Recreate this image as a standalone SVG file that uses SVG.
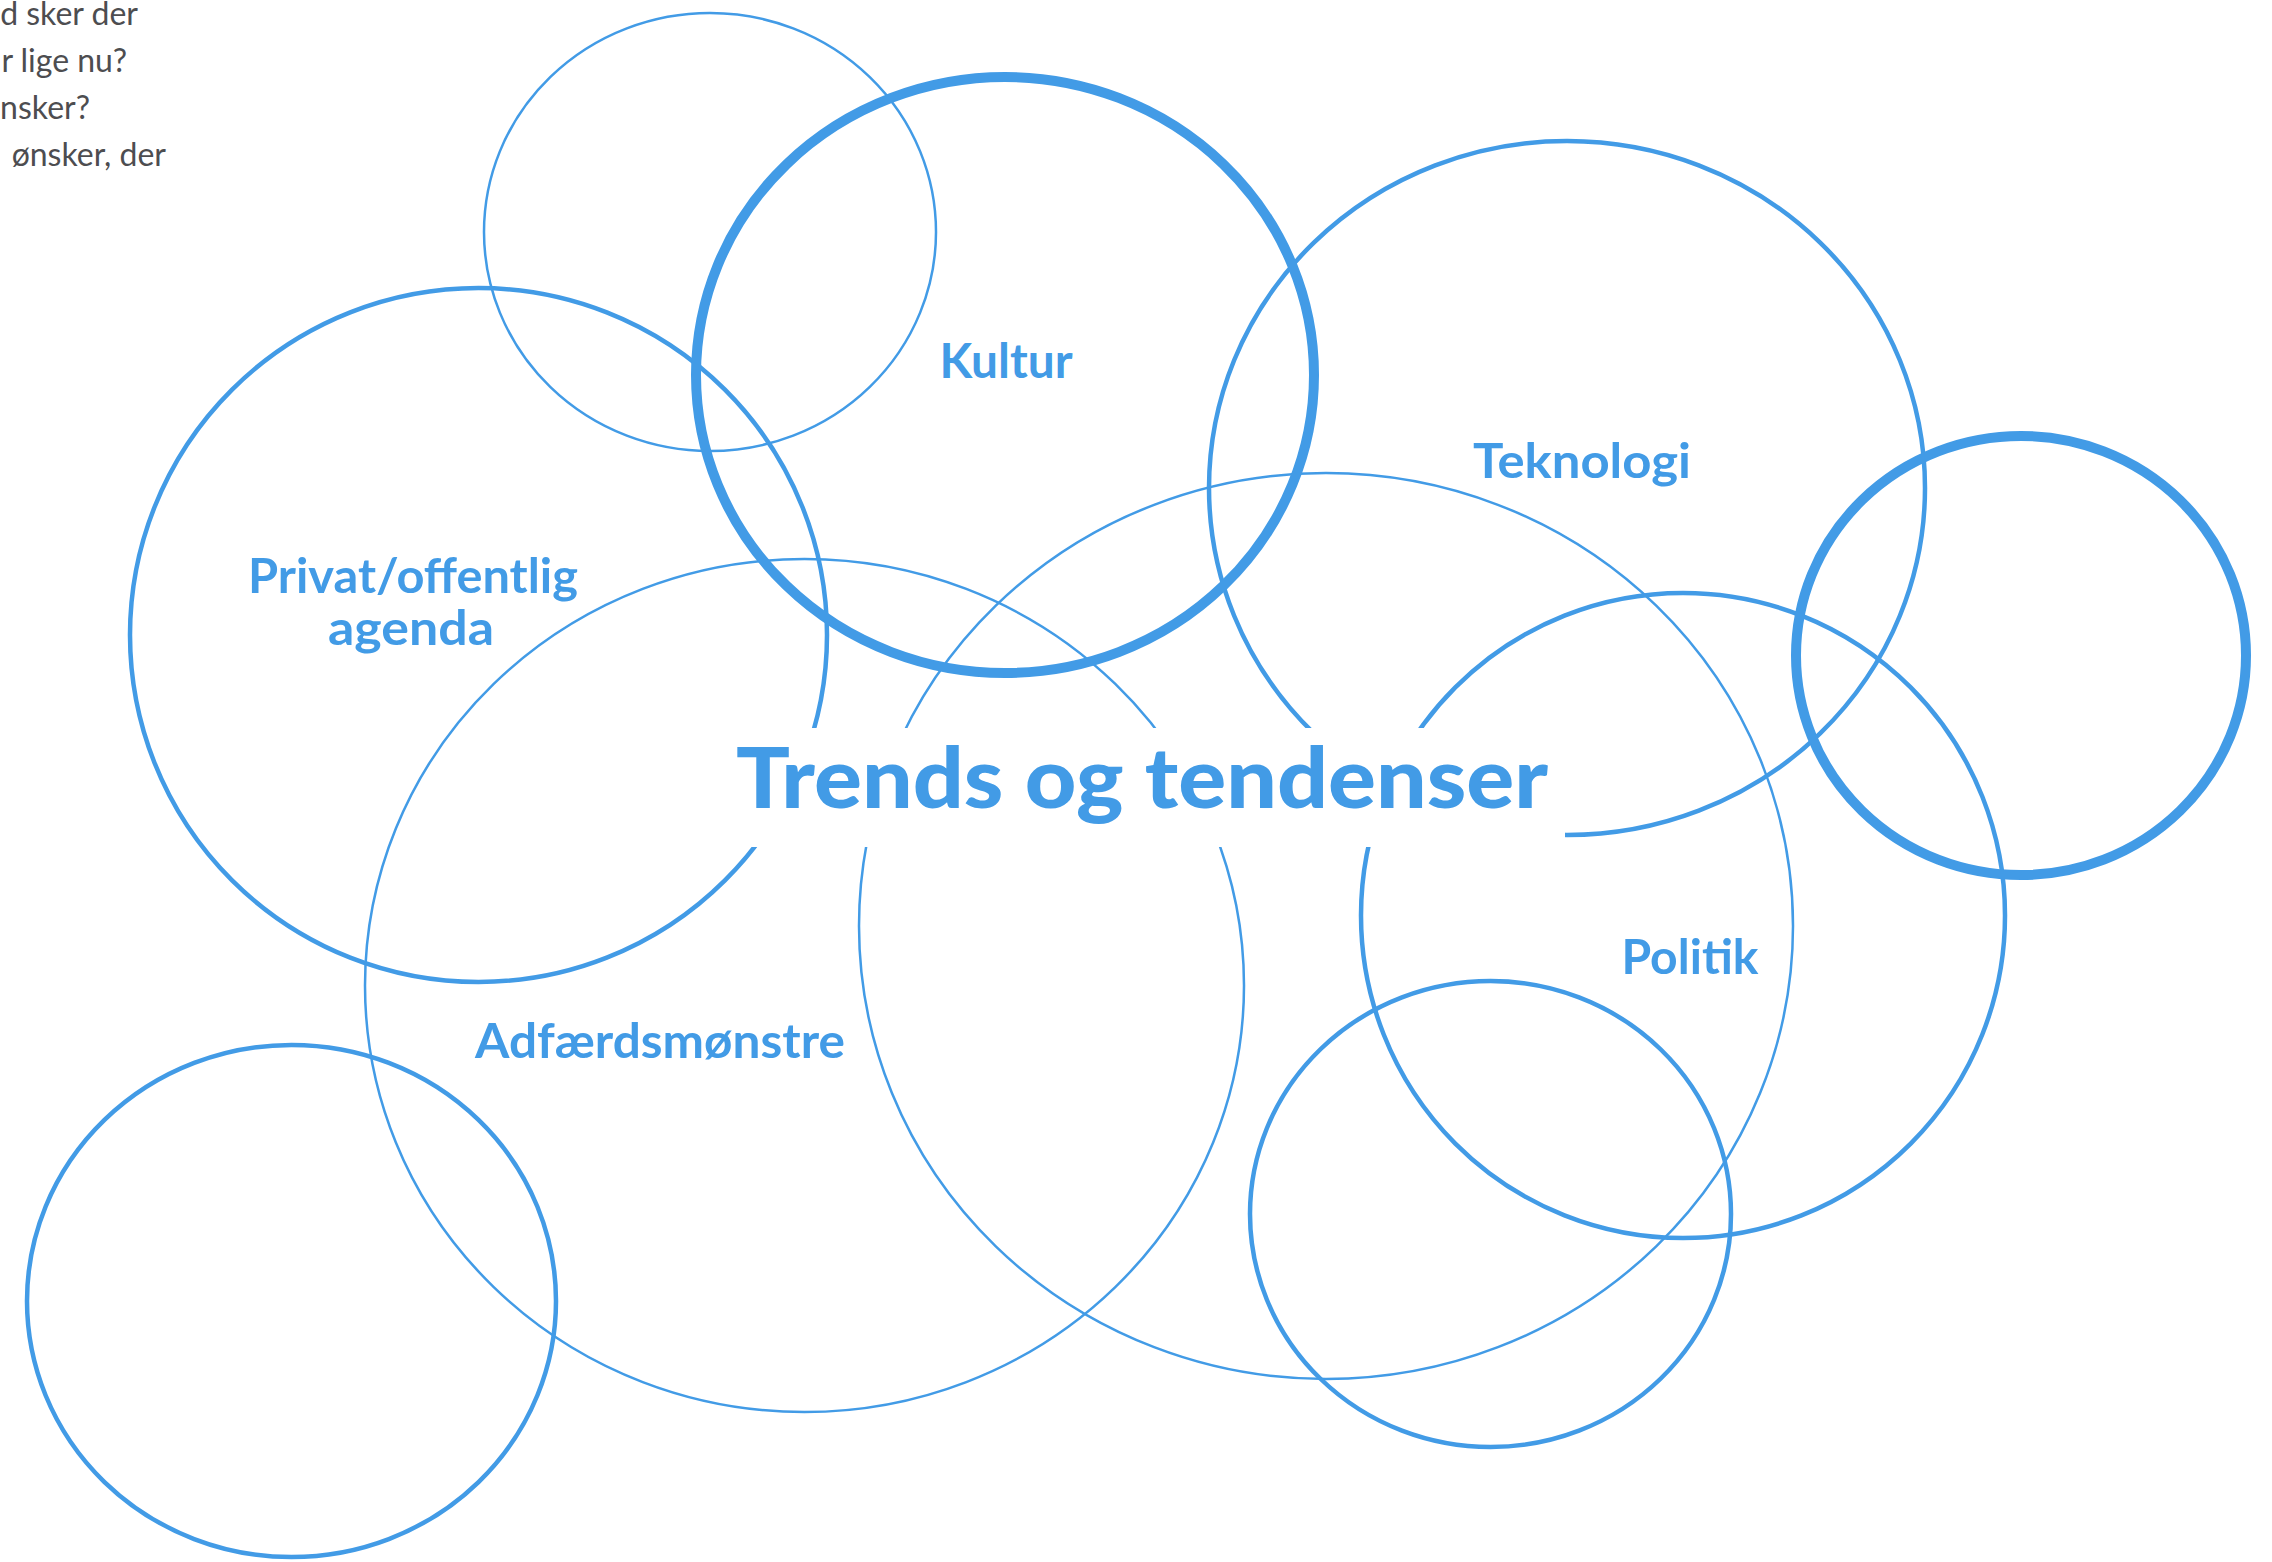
<svg xmlns="http://www.w3.org/2000/svg" width="2272" height="1562" viewBox="0 0 2272 1562">
<style>
.c{fill:none;stroke:#429be6}
.thin{stroke-width:2.5}
.med{stroke-width:4.5}
.thick{stroke-width:10}
.lbl{font-family:Lato,"Open Sans",sans-serif;font-weight:700;font-size:48px;fill:#429be6;text-anchor:middle}
.title{font-family:Lato,"Open Sans",sans-serif;font-weight:900;font-size:84px;fill:#429be6;text-anchor:middle}
.note{font-family:Lato,"Open Sans",sans-serif;font-weight:400;font-size:32px;fill:#4d4d50;text-anchor:end}
</style>
<defs>
<mask id="cut" maskUnits="userSpaceOnUse" x="0" y="0" width="2272" height="1562">
<rect x="0" y="0" width="2272" height="1562" fill="#fff"/>
<rect x="715" y="728" width="850" height="119" fill="#000"/>
</mask>
</defs>
<rect width="2272" height="1562" fill="#fff"/>
<g id="notes">
<text class="note" x="138" y="25">d sker der</text>
<text class="note" x="127" y="72">r lige nu?</text>
<text class="note" x="90" y="119">nsker?</text>
<text class="note" x="166" y="166">ønsker, der</text>
</g>
<g mask="url(#cut)">
<g id="circle-top"><ellipse class="c thin" cx="710" cy="232" rx="226" ry="219"/></g>
<g id="node-privat"><ellipse class="c med" cx="478.5" cy="635" rx="348.5" ry="347"/></g>
<g id="node-adfaerd"><ellipse class="c thin" cx="804.5" cy="985.5" rx="439.5" ry="426.5"/></g>
<g id="node-center"><ellipse class="c thin" cx="1326" cy="926" rx="467" ry="453"/></g>
<g id="node-teknologi"><ellipse class="c med" cx="1567" cy="488" rx="358" ry="347"/></g>
<g id="node-politik"><ellipse class="c med" cx="1683" cy="915.5" rx="322" ry="322.5"/></g>
<g id="circle-right"><ellipse class="c thick" cx="2021" cy="655.5" rx="225" ry="219.5"/></g>
<g id="circle-bottomleft"><ellipse class="c med" cx="291.5" cy="1301" rx="264.5" ry="256"/></g>
<g id="circle-bottom"><ellipse class="c med" cx="1490.5" cy="1214" rx="240.5" ry="233"/></g>
<g id="node-kultur"><ellipse class="c thick" cx="1005" cy="375" rx="309" ry="298"/></g>
</g>
<g id="labels">
<text class="lbl" x="1006" y="378" textLength="133" lengthAdjust="spacingAndGlyphs">Kultur</text>
<text class="lbl" x="1582" y="478" textLength="218" lengthAdjust="spacingAndGlyphs">Teknologi</text>
<text class="lbl" x="413" y="593" textLength="330" lengthAdjust="spacingAndGlyphs">Privat/offentlig</text>
<text class="lbl" x="411" y="645" textLength="166" lengthAdjust="spacingAndGlyphs">agenda</text>
<text class="lbl" x="660" y="1058" textLength="370" lengthAdjust="spacingAndGlyphs">Adfærdsmønstre</text>
<text class="lbl" x="1690" y="974" textLength="137" lengthAdjust="spacingAndGlyphs">Politik</text>
<text class="title" x="1142" y="808" textLength="812" lengthAdjust="spacingAndGlyphs">Trends og tendenser</text>
</g>
</svg>
